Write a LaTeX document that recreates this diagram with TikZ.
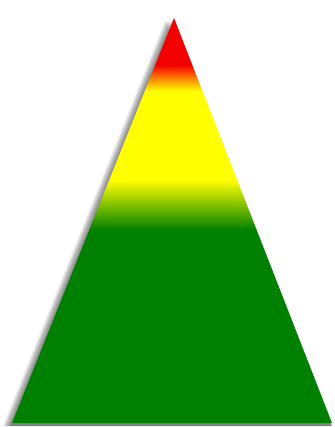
\documentclass[tikz,border=0pt]{standalone}
\usepackage{xcolor}
\usepackage{tikz}

\definecolor{treegreen}{RGB}{0,128,0}
\definecolor{tipred}{RGB}{245,0,0}
\pgfdeclareverticalshading{pyramidshade}{100bp}{color(0bp)=(treegreen); color(48.8bp)=(treegreen); color(55bp)=(yellow); color(66bp)=(yellow); color(69.2bp)=(tipred); color(100bp)=(tipred)}

\begin{document}
\begin{tikzpicture}[x=1pt, y=-1pt]
    \useasboundingbox (0,0) rectangle (334,427);
    \coordinate (apex) at (174,18);
    \coordinate (left) at (12,423);
    \coordinate (right) at (332,423);
    % soft shadow, down and to the left
    \foreach \k in {0,...,8}
        \fill[black, opacity=0.07] ([shift={(-1-\k,3)}]apex) -- ([shift={(-1-\k,3)}]left) -- ([shift={(-1+\k*0.2,3)}]right) -- cycle;
    \shade[shading=pyramidshade] (apex) -- (left) -- (right) -- cycle;
\end{tikzpicture}
\end{document}
